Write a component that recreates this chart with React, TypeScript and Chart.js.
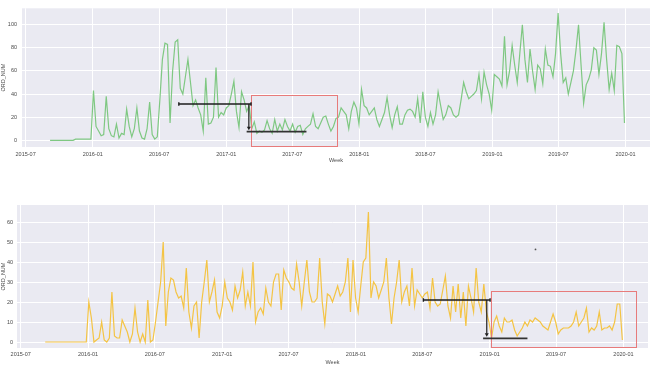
import React, { useEffect, useRef } from "react";
import { Chart, registerables } from "chart.js";

Chart.register(...registerables);

// ---------- data ----------
const START_WEEK = "2015-09-06";
const X_RANGE = ["2015-06-21", "2020-03-08"];
const X_TICK_LABELS = ["2015-07", "2016-01", "2016-07", "2017-01", "2017-07", "2018-01", "2018-07", "2019-01", "2019-07", "2020-01"];

const TOP_Y_TICKS = [0, 20, 40, 60, 80, 100];
const TOP_Y_RANGE = [-5.8, 114.2];
const BOTTOM_Y_TICKS = [0, 10, 20, 30, 40, 50, 60];
const BOTTOM_Y_RANGE = [-3, 68.5];

const TOP_VALUES = [
  0, 0, 0, 0, 0, 0, 0, 0, 0, 0,
  1, 1, 1, 1, 1, 1, 1,
  43, 12, 8, 4, 5, 38, 10, 4, 3, 14,
  2, 6, 5, 27, 12, 3, 10, 28, 8, 2,
  1, 10, 33, 5, 1, 3,
  35, 70, 84, 83, 15, 60, 85, 87, 45, 40,
  55, 70, 50, 30, 35, 28, 22, 8, 54, 14,
  15, 20, 63, 20, 24, 22, 28, 30, 40, 51,
  25, 11, 42, 35, 25, 30,
  10, 16, 6, 8, 7, 9, 17, 10, 6, 18,
  8, 14, 9, 18, 12, 8, 14, 7, 12, 13,
  5, 10, 12, 14, 23, 12, 10,
  15, 20, 21, 14, 8, 12, 19, 20, 28, 25,
  22, 10, 25, 33, 28, 14, 44, 30, 28, 22,
  25, 28, 18, 12, 18, 24, 37, 22, 11, 22,
  29, 14, 14, 22, 26, 27, 25, 20, 36, 15,
  42, 20, 12, 24, 14, 22, 42, 30, 18, 22,
  30, 28, 22, 20, 22, 35, 50, 42, 36, 38,
  40, 43, 57, 36, 59, 48, 40, 26, 57, 55,
  53, 47, 90, 48, 60, 82, 65, 50, 75, 100,
  70, 50, 79, 60, 44, 65, 62, 49, 79, 65,
  64, 55, 75, 110, 75, 50, 54, 40, 50, 60,
  78, 100, 65, 32, 48, 53, 61, 80, 78, 57,
  75, 102, 70, 44, 58, 43, 82, 81, 75, 15,
];

const BOTTOM_VALUES = [
  0, 0, 0, 0, 0, 0, 0, 0, 0, 0,
  0, 0, 0, 0, 0, 0, 0, 20, 12, 0,
  1, 2, 10, 1, 0, 2, 25, 3, 2, 2,
  11, 8, 5, 0, 4, 17, 5, 0, 4, 0,
  21, 0, 1, 10, 20, 30, 50, 8, 25, 32,
  31, 25, 22, 23, 17, 37, 15, 7, 18, 20,
  2, 20, 30, 41, 20, 25, 31, 15, 12, 18,
  30, 22, 20, 16, 28, 22, 26, 35, 18, 25,
  18, 40, 10, 15, 17, 14, 27, 20, 18, 30,
  34, 34, 16, 36, 32, 30, 27, 26, 39, 30,
  18, 30, 41, 25, 20, 20, 22, 42, 20, 9,
  24, 23, 20, 24, 28, 23, 25, 30, 42, 15,
  41, 22, 15, 28, 40, 42, 65, 22, 30, 28,
  22, 26, 30, 42, 22, 9, 22, 30, 41, 20,
  25, 28, 18, 37, 18, 26, 24, 22, 24, 25,
  17, 32, 20, 18, 19, 26, 33, 18, 12, 28,
  15, 29, 12, 25, 8, 28, 22, 15, 37, 20,
  15, 29, 15, 10, 2, 10, 13, 8, 5, 12,
  10, 10, 11, 6, 3, 5, 7, 10, 8, 11,
  10, 12, 11, 10, 8, 7, 6, 10, 14, 10,
  4, 6, 7, 7, 7, 8, 10, 15, 8, 10,
  12, 17, 5, 7, 6, 8, 15, 6, 7, 7,
  8, 6, 10, 19, 19, 1,
];

// annotation endpoints (date, value)
const TOP_UPPER_BAR = ["2016-08-24", "2017-03-10", 31.4];
const TOP_ARROW = ["2017-03-04", 31.4, 8.6];
const TOP_LOWER_BAR = ["2017-02-26", "2017-08-09", 7.5];
const TOP_BOX = ["2017-03-11", "2017-11-01", 39.4, -5.5];

const BOTTOM_UPPER_BAR = ["2018-07-04", "2019-01-02", 21];
const BOTTOM_ARROW = ["2018-12-24", 21, 2.6];
const BOTTOM_LOWER_BAR = ["2018-12-14", "2019-04-14", 1.8];
const BOTTOM_BOX = ["2019-01-04", "2020-02-04", 25.7, -2.7];
const BOTTOM_DOT = ["2019-05-06", 46.3];

// ---------- helpers ----------
const ORIGIN = Date.UTC(2015, 6, 1);
const dayOf = (iso: string) => (Date.parse(iso + "T00:00:00Z") - ORIGIN) / 86400000;

const FONT = "'Liberation Sans', Arial, sans-serif";
const TEXT = "#4a4a4a";
const PLOT_BG = "#eaeaf2";

const bgPlugin = {
  id: "plotBg",
  beforeDraw(chart: any) {
    const { ctx, chartArea } = chart;
    ctx.save();
    ctx.fillStyle = PLOT_BG;
    ctx.fillRect(chartArea.left, chartArea.top, chartArea.right - chartArea.left, chartArea.bottom - chartArea.top);
    ctx.restore();
  },
};

function annotationPlugin(ann: any) {
  return {
    id: "annot",
    afterDatasetsDraw(chart: any) {
      const { ctx, scales, chartArea } = chart;
      const px = (d: string) => scales.x.getPixelForValue(dayOf(d));
      const py = (v: number) => scales.y.getPixelForValue(v);
      ctx.save();
      // red box
      const [b0, b1, bt, bb] = ann.box;
      const bx0 = Math.round(px(b0)) + 0.5;
      const bx1 = Math.round(px(b1)) + 0.5;
      const by0 = Math.round(py(bt)) + 0.5;
      const by1 = Math.min(Math.round(py(bb)), chartArea.bottom - 1) + 0.5;
      ctx.strokeStyle = "#e77b7b";
      ctx.lineWidth = 1;
      ctx.strokeRect(bx0, by0, bx1 - bx0, by1 - by0);

      // upper bar with caps
      const [u0, u1, uv] = ann.upper;
      const ux0 = px(u0), ux1 = px(u1), uy = py(uv);
      ctx.strokeStyle = "#1e1e1e";
      ctx.lineWidth = 1.4;
      ctx.beginPath();
      ctx.moveTo(ux0, uy); ctx.lineTo(ux1, uy);
      ctx.moveTo(ux0, uy - 1.8); ctx.lineTo(ux0, uy + 1.8);
      ctx.moveTo(ux1, uy - 1.8); ctx.lineTo(ux1, uy + 1.8);
      ctx.stroke();

      // arrow
      const [ad, av0, av1] = ann.arrow;
      const ax = px(ad), ay0 = py(av0), ay1 = py(av1);
      ctx.lineWidth = 1.2;
      ctx.beginPath();
      ctx.moveTo(ax, ay0); ctx.lineTo(ax, ay1 - 3);
      ctx.stroke();
      ctx.fillStyle = "#1e1e1e";
      ctx.beginPath();
      ctx.moveTo(ax - 2, ay1 - 3.5); ctx.lineTo(ax + 2, ay1 - 3.5); ctx.lineTo(ax, ay1);
      ctx.closePath();
      ctx.fill();

      // lower bar
      const [l0, l1, lv] = ann.lower;
      ctx.strokeStyle = "#333333";
      ctx.lineWidth = 1.8;
      ctx.beginPath();
      ctx.moveTo(px(l0), py(lv)); ctx.lineTo(px(l1), py(lv));
      ctx.stroke();

      if (ann.dot) {
        ctx.fillStyle = "#555555";
        ctx.beginPath();
        ctx.arc(px(ann.dot[0]), py(ann.dot[1]), 0.9, 0, Math.PI * 2);
        ctx.fill();
      }
      ctx.restore();
    },
  };
}

function buildChart(canvas: HTMLCanvasElement, p: any) {
  const start = dayOf(START_WEEK);
  const points = p.values.map((v: number, i: number) => ({ x: start + 7 * i, y: v }));
  return new Chart(canvas, {
    type: "line",
    data: {
      datasets: [
        {
          data: points,
          borderColor: p.color,
          borderWidth: 1.2,
          pointRadius: 0,
          tension: 0,
          fill: false,
        },
      ],
    },
    options: {
      animation: false,
      responsive: false,
      devicePixelRatio: 1,
      events: [],
      layout: { padding: { top: p.padTop, right: p.padRight, left: 0, bottom: 0 } },
      plugins: { legend: { display: false }, tooltip: { enabled: false } },
      scales: {
        x: {
          type: "linear",
          min: dayOf(X_RANGE[0]),
          max: dayOf(X_RANGE[1]),
          afterBuildTicks: (s: any) => {
            s.ticks = X_TICK_LABELS.map((l) => ({ value: dayOf(l + "-01") }));
          },
          afterFit: (s: any) => {
            s.height = p.xHeight;
          },
          grid: { color: "#ffffff", lineWidth: 1, drawTicks: false },
          border: { display: false },
          ticks: {
            autoSkip: false,
            maxRotation: 0,
            padding: p.xTickPad,
            color: TEXT,
            font: { family: FONT, size: 5.5 },
            callback: (_v: any, i: number) => X_TICK_LABELS[i],
          },
          title: {
            display: true,
            text: "Week",
            color: TEXT,
            font: { family: FONT, size: 5.5 },
            padding: { top: 0, bottom: p.xTitlePad },
          },
        },
        y: {
          type: "linear",
          min: p.yRange[0],
          max: p.yRange[1],
          afterBuildTicks: (s: any) => {
            s.ticks = p.yTicks.map((v: number) => ({ value: v }));
          },
          afterFit: (s: any) => {
            s.width = p.yWidth;
          },
          grid: { color: "#ffffff", lineWidth: 1, drawTicks: false },
          border: { display: false },
          ticks: {
            padding: p.yTickPad,
            color: TEXT,
            font: { family: FONT, size: 5.5 },
            callback: (v: any) => String(v),
          },
          title: {
            display: true,
            text: "ORD_NUM",
            color: TEXT,
            font: { family: FONT, size: 5.5 },
            padding: { top: 0, bottom: 0 },
          },
        },
      },
    } as any,
    plugins: [bgPlugin, annotationPlugin(p.ann)],
  });
}

export default function App() {
  const topRef = useRef<HTMLCanvasElement | null>(null);
  const bottomRef = useRef<HTMLCanvasElement | null>(null);

  useEffect(() => {
    const top = buildChart(topRef.current!, {
      values: TOP_VALUES,
      color: "#7fc882",
      yTicks: TOP_Y_TICKS,
      yRange: TOP_Y_RANGE,
      padTop: 3,
      padRight: 4,
      yWidth: 22,
      xHeight: 38,
      xTickPad: 4,
      yTickPad: 5,
      xTitlePad: 21.7,
      ann: { upper: TOP_UPPER_BAR, arrow: TOP_ARROW, lower: TOP_LOWER_BAR, box: TOP_BOX },
    });
    const bottom = buildChart(bottomRef.current!, {
      values: BOTTOM_VALUES,
      color: "#f4c444",
      yTicks: BOTTOM_Y_TICKS,
      yRange: BOTTOM_Y_RANGE,
      padTop: 20,
      padRight: 6,
      yWidth: 17,
      xHeight: 23,
      xTickPad: 3.5,
      yTickPad: 4,
      xTitlePad: 5.7,
      ann: { upper: BOTTOM_UPPER_BAR, arrow: BOTTOM_ARROW, lower: BOTTOM_LOWER_BAR, box: BOTTOM_BOX, dot: BOTTOM_DOT },
    });
    return () => {
      top.destroy();
      bottom.destroy();
    };
  }, []);

  return (
    <div style={{ position: "absolute", left: 0, top: 0, width: 654, height: 371, background: "#ffffff" }}>
      <canvas ref={topRef} width={654} height={185} style={{ position: "absolute", left: 0, top: 0, width: 654, height: 185 }} />
      <canvas ref={bottomRef} width={654} height={186} style={{ position: "absolute", left: 0, top: 185, width: 654, height: 186 }} />
    </div>
  );
}
